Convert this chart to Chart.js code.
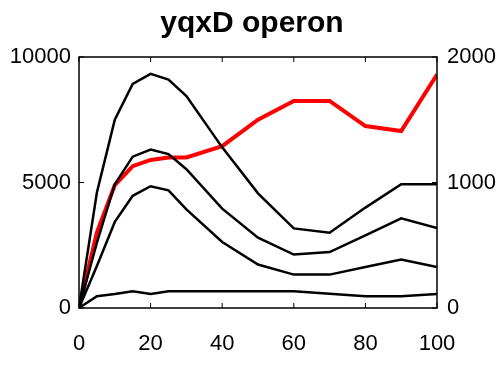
<!DOCTYPE html>
<html>
<head>
<meta charset="utf-8">
<script src="https://cdn.jsdelivr.net/npm/chart.js"></script>
<style>
  html, body { margin: 0; padding: 0; background: #fff; }
  #wrap { width: 504px; height: 370px; }
</style>
</head>
<body>
<div id="wrap"><canvas id="operonChart"></canvas></div>
<script>
// sampling times
const times = [0, 5, 10, 15, 20, 25, 30, 40, 50, 60, 70, 80, 90, 100];
// black curves, left axis
const curveA = [0, 4600, 7500, 8930, 9330, 9100, 8440, 6400, 4570, 3170, 3000, 4000, 4930, 4930];
const curveB = [0, 2600, 4930, 6030, 6310, 6130, 5530, 3960, 2800, 2130, 2230, 2890, 3570, 3190];
const curveC = [0, 1670, 3430, 4470, 4850, 4690, 3930, 2630, 1730, 1330, 1330, 1630, 1930, 1630];
const curveD = [0, 470, 560, 670, 560, 670, 670, 670, 670, 670, 570, 470, 470, 560];
// red curve, right axis
const operon = [0, 600, 980, 1130, 1180, 1200, 1200, 1290, 1500, 1650, 1650, 1450, 1410, 1860];

const xTicks = [0, 20, 40, 60, 80, 100];
const leftTicks = [0, 5000, 10000];
const rightTicks = [0, 1000, 2000];

const tickFont = { family: '"Liberation Sans", Arial', size: 22 };

function pts(vals) {
  return times.map((t, i) => ({ x: t, y: vals[i] }));
}

function blackLine(vals) {
  return { data: pts(vals), borderColor: '#000', borderWidth: 2.5, pointRadius: 0, yAxisID: 'y', tension: 0 };
}

// frame around the plot plus inward tick marks
const frameTicks = {
  id: 'frameTicks',
  afterDraw(chart) {
    const ctx = chart.ctx;
    const a = chart.chartArea;
    const sx = chart.scales.x, sl = chart.scales.y, sr = chart.scales.y2;
    ctx.save();
    ctx.strokeStyle = '#000';
    ctx.lineWidth = 1.5;
    ctx.strokeRect(a.left, a.top, a.right - a.left, a.bottom - a.top);
    ctx.lineWidth = 1;
    ctx.beginPath();
    xTicks.forEach(v => {
      const px = sx.getPixelForValue(v);
      ctx.moveTo(px, a.bottom); ctx.lineTo(px, a.bottom - 5);
      ctx.moveTo(px, a.top); ctx.lineTo(px, a.top + 5);
    });
    leftTicks.forEach(v => {
      const py = sl.getPixelForValue(v);
      ctx.moveTo(a.left, py); ctx.lineTo(a.left + 5, py);
    });
    rightTicks.forEach(v => {
      const py = sr.getPixelForValue(v);
      ctx.moveTo(a.right, py); ctx.lineTo(a.right - 5, py);
    });
    ctx.stroke();
    ctx.restore();
  }
};

const plain = v => String(v);

const ctx = document.getElementById('operonChart').getContext('2d');
const chart = new Chart(ctx, {
  type: 'line',
  data: {
    datasets: [
      blackLine(curveA),
      blackLine(curveB),
      blackLine(curveC),
      blackLine(curveD),
      { data: pts(operon), borderColor: '#ff0000', borderWidth: 4, pointRadius: 0, yAxisID: 'y2', tension: 0 }
    ]
  },
  options: {
    responsive: true,
    maintainAspectRatio: false,
    animation: false,
    layout: { padding: 0 },
    plugins: {
      legend: { display: false },
      tooltip: { enabled: false },
      title: {
        display: true,
        text: 'yqxD operon',
        color: '#000',
        font: { family: '"Liberation Sans", Arial', size: 30, weight: 'bold', lineHeight: 1.2 },
        padding: { top: 6, bottom: 15 }
      }
    },
    scales: {
      x: {
        type: 'linear',
        min: 0, max: 100,
        afterFit(s) { s.height = 62; },
        afterBuildTicks(s) { s.ticks = xTicks.map(v => ({ value: v })); },
        grid: { display: false, drawTicks: false },
        border: { display: false },
        ticks: { color: '#000', font: tickFont, padding: 23, maxRotation: 0, callback: plain }
      },
      y: {
        position: 'left',
        min: 0, max: 10000,
        afterFit(s) { s.width = 79; },
        afterBuildTicks(s) { s.ticks = leftTicks.map(v => ({ value: v })); },
        grid: { display: false, drawTicks: false },
        border: { display: false },
        ticks: { color: '#000', font: tickFont, padding: 8, callback: plain }
      },
      y2: {
        position: 'right',
        min: 0, max: 2000,
        afterFit(s) { s.width = 67; },
        afterBuildTicks(s) { s.ticks = rightTicks.map(v => ({ value: v })); },
        grid: { display: false, drawTicks: false },
        border: { display: false },
        ticks: { color: '#000', font: tickFont, padding: 10, callback: plain }
      }
    }
  },
  plugins: [frameTicks]
});
</script>
</body>
</html>
